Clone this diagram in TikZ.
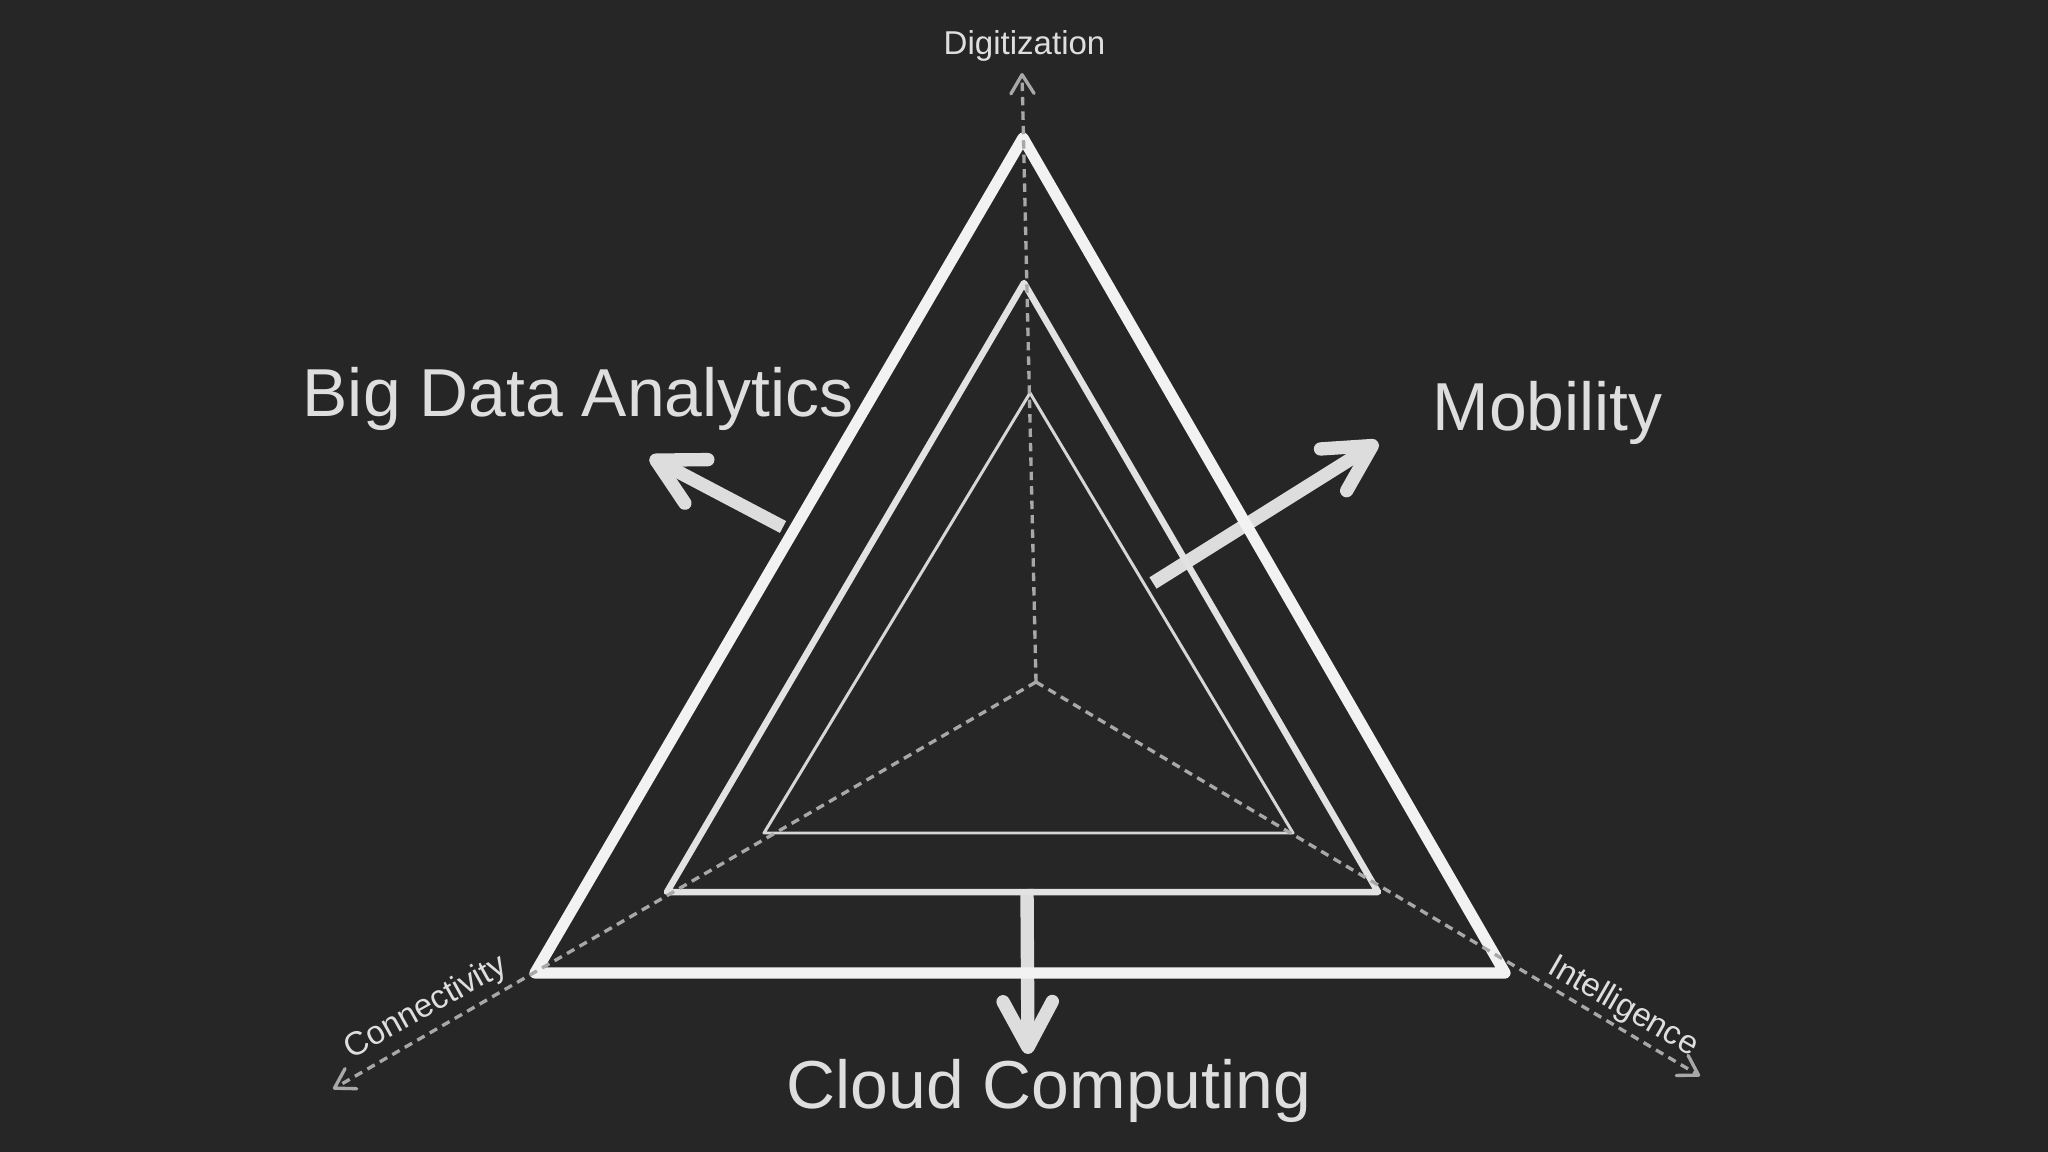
\documentclass[tikz,border=0pt]{standalone}
\usepackage{fontspec}
\setmainfont{Liberation Sans}
\usetikzlibrary{arrows.meta}
\definecolor{bg}{HTML}{262626}
\definecolor{outerc}{HTML}{F2F2F2}
\definecolor{midc}{HTML}{E2E2E2}
\definecolor{innc}{HTML}{D6D6D6}
\definecolor{axisc}{HTML}{A8A8A8}
\definecolor{arrc}{HTML}{DDDDDD}
\definecolor{txtc}{HTML}{DEDEDE}
\begin{document}
\begin{tikzpicture}[x=0.01cm,y=-0.01cm,
  axisline/.style={axisc, line width=0.95pt, dash pattern=on 2.4pt off 1.7pt,
    -{Straight Barb[length=5.4pt,width=6.6pt,round]}},
  bigarrow/.style={arrc, line width=3.8pt,
    -{Straight Barb[length=13pt,width=14pt,round]}},
  tri/.style={line join=round},
  biglabel/.style={txtc, inner sep=0pt, font=\fontsize{19.3pt}{23pt}\selectfont},
  smalllabel/.style={txtc, inner sep=0pt, font=\fontsize{9.4pt}{11pt}\selectfont}]
\fill[bg] (0,0) rectangle (2048,1152);
\useasboundingbox (0,0) rectangle (2048,1152);
% vertices
\coordinate (c) at (1036,682);
\coordinate (o1) at (1023,138);
\coordinate (o2) at (535,973);
\coordinate (o3) at (1505,973);
\coordinate (m1) at (1024,283);
\coordinate (m2) at (667,892);
\coordinate (m3) at (1378,892);
\coordinate (i1) at (1030,393);
\coordinate (i2) at (764,833);
\coordinate (i3) at (1293,833);
% axis ends
\coordinate (dig) at (1022,73);
\coordinate (con) at (333,1089);
\coordinate (int) at (1700,1076);
% big arrows
\coordinate (bdS) at (783,527);
\coordinate (bdE) at (650,457);
\coordinate (moS) at (1153,583);
\coordinate (moE) at (1378,442);
\coordinate (ccS) at (1027,889);
\coordinate (ccE) at (1028,1054);
\draw[bigarrow] (bdS) -- (bdE);
\draw[bigarrow] (moS) -- (moE);
\draw[bigarrow] (ccS) -- (ccE);
% triangles
\draw[tri, innc, line width=0.85pt] (i1) -- (i2) -- (i3) -- cycle;
\draw[tri, midc, line width=1.85pt] (m1) -- (m2) -- (m3) -- cycle;
\draw[tri, outerc, line width=3.2pt] (o1) -- (o2) -- (o3) -- cycle;
% axes
\draw[axisline] (c) -- (dig);
\draw[axisline] (c) -- (con);
\draw[axisline] (c) -- (int);
% labels
\node[smalllabel, anchor=base west] (tdig) at (943,55) {Digitization};
\node[smalllabel, rotate=29] (tcon) at (426,1008) {Connectivity};
\node[smalllabel, rotate=-30] (tint) at (1623,1007) {Intelligence};
\node[biglabel, anchor=base west] (tbd) at (302,417) {Big Data Analytics};
\node[biglabel, anchor=base west] (tmo) at (1432,431) {Mobility};
\node[biglabel, anchor=base west] (tcc) at (786,1108) {Cloud Computing};
\end{tikzpicture}
\end{document}
